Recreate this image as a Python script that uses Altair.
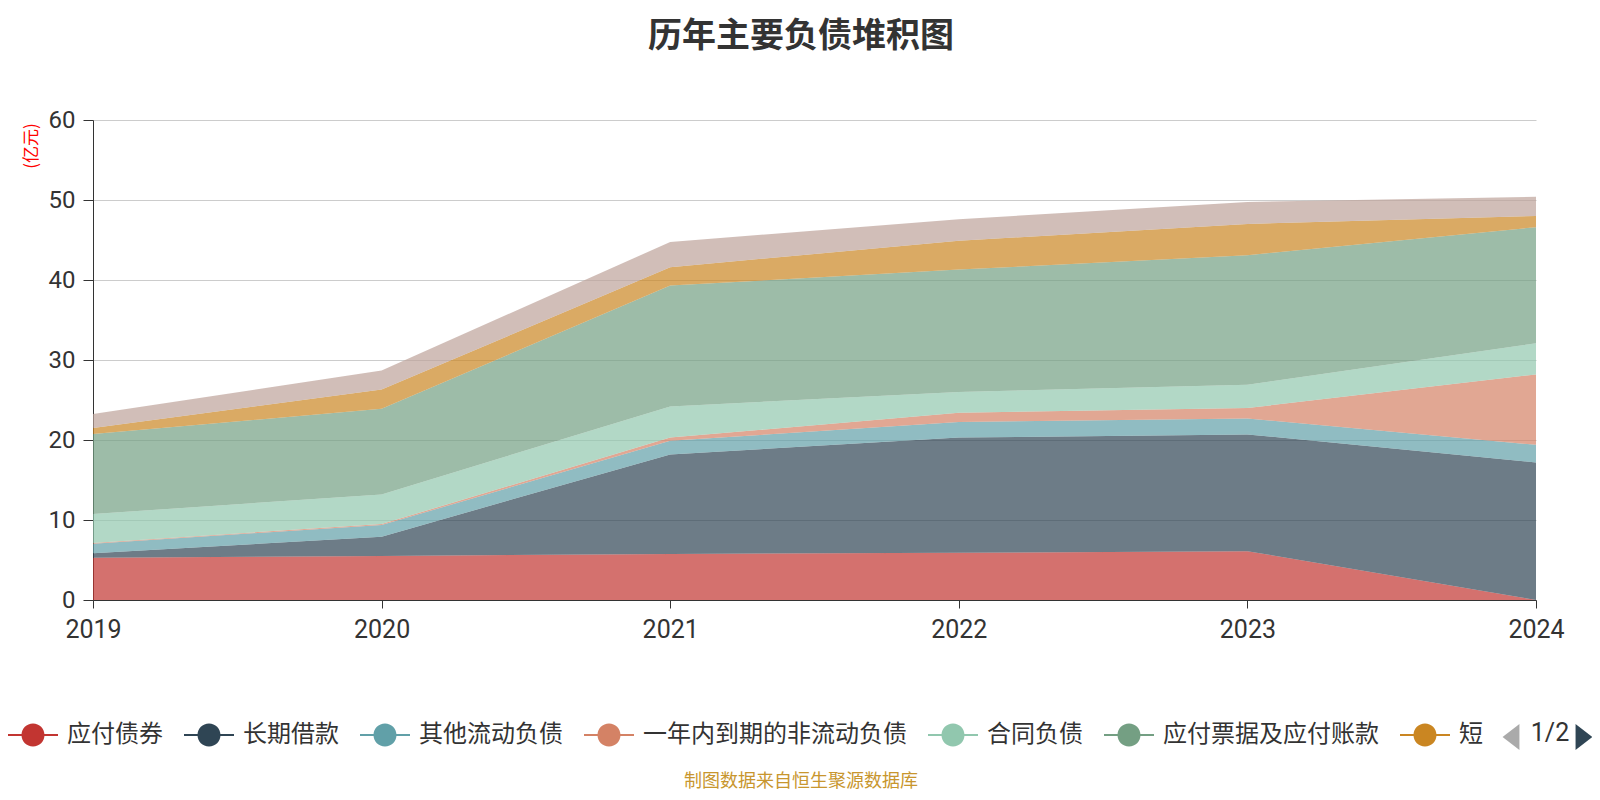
import altair as alt
import pandas as pd

years = [2019, 2020, 2021, 2022, 2023, 2024]
series_names = ["应付债券", "长期借款", "其他流动负债", "一年内到期的非流动负债",
                "合同负债", "应付票据及应付账款", "短期借款", "其他应付款"]
bonds_payable = [5.29, 5.5, 5.75, 5.9, 6.1, 0.0]
long_term_loans = [0.54, 2.42, 12.45, 14.4, 14.6, 17.2]
other_current = [1.21, 1.46, 1.7, 1.95, 2.0, 2.2]
due_within_year = [0.1, 0.12, 0.4, 1.15, 1.3, 8.8]
contract_liab = [3.6, 3.7, 3.9, 2.6, 2.9, 3.9]
notes_accounts = [10.0, 10.7, 15.1, 15.3, 16.2, 14.5]
short_term_loans = [0.76, 2.4, 2.3, 3.6, 3.9, 1.4]
other_payables = [1.74, 2.4, 3.15, 2.7, 2.75, 2.4]
colors = ["#c23531", "#2f4554", "#61a0a8", "#d48265",
          "#91c7ae", "#749f83", "#ca8622", "#bda29a"]

all_values = [bonds_payable, long_term_loans, other_current, due_within_year,
              contract_liab, notes_accounts, short_term_loans, other_payables]

rows = []
for i, (name, vals) in enumerate(zip(series_names, all_values)):
    for y, v in zip(years, vals):
        rows.append({"year": y, "series": name, "value": v, "idx": i})
df = pd.DataFrame(rows)

FONT = "Noto Sans CJK SC"
NUM_FONT = "Roboto"
legend_symbol = ("M-1,-0.04H1V0.04H-1Z "
                 "M0.46,0A0.46,0.46,0,1,1,-0.46,0A0.46,0.46,0,1,1,0.46,0Z")

area = alt.Chart(df).mark_area(opacity=0.7, interpolate="linear").encode(
    x=alt.X("year:Q",
            scale=alt.Scale(domain=[2019, 2024], nice=False, zero=False),
            axis=alt.Axis(values=years, format="d", grid=False, title=None,
                          domainColor="#333", tickColor="#333", tickSize=8,
                          labelFont=NUM_FONT, labelFontSize=25,
                          labelColor="#333", labelPadding=9,
                          labelFlush=False, labelOverlap=False)),
    y=alt.Y("value:Q", stack="zero",
            scale=alt.Scale(domain=[0, 60], nice=False),
            axis=alt.Axis(values=[0, 10, 20, 30, 40, 50, 60], grid=True,
                          gridColor="#cccccc", domainColor="#333",
                          tickColor="#333", tickSize=10,
                          labelFont=NUM_FONT, labelFontSize=24,
                          labelColor="#333", labelPadding=8,
                          title="(亿元)", titleColor="red", titleFontSize=17,
                          titleFontWeight="normal", titleAngle=270,
                          titleX=-62, titleY=25.5, titleAlign="center",
                          titleBaseline="middle")),
    color=alt.Color("series:N",
                    scale=alt.Scale(domain=series_names, range=colors),
                    legend=alt.Legend(
                        title=None, orient="none", legendX=-85, legendY=590,
                        direction="horizontal", values=series_names[:7],
                        symbolType=legend_symbol, symbolSize=2500,
                        symbolStrokeWidth=0, symbolOpacity=1,
                        labelFontSize=24, labelColor="#333", labelOffset=9,
                        columnPadding=21, labelLimit=400, padding=0,
                        labelExpr="datum.label == '短期借款' ? '短' : datum.label")),
    order=alt.Order("idx:Q", sort="ascending"),
)

one = pd.DataFrame({"t": ["1/2"]})
pager_text = alt.Chart(one).mark_text(font=NUM_FONT, fontSize=25, color="#333",
                                      align="center", baseline="middle").encode(
    x=alt.value(1457), y=alt.value(613), text="t:N")
tri_left = alt.Chart(one).mark_point(shape="M0.65,-1L-0.65,0L0.65,1Z", filled=True,
                                     size=676, color="#aaaaaa", opacity=1,
                                     strokeWidth=0).encode(
    x=alt.value(1418), y=alt.value(617))
tri_right = alt.Chart(one).mark_point(shape="M-0.65,-1L0.65,0L-0.65,1Z", filled=True,
                                      size=676, color="#2f4554", opacity=1,
                                      strokeWidth=0).encode(
    x=alt.value(1491), y=alt.value(617))

src = pd.DataFrame({"t": ["制图数据来自恒生聚源数据库"]})
footer = alt.Chart(src).mark_text(fontSize=18, color="#c8962e", align="center",
                                  baseline="middle").encode(
    x=alt.value(708), y=alt.value(662), text="t:N")

chart = alt.layer(area, pager_text, tri_left, tri_right, footer).properties(
    width=1443, height=480,
    title=alt.Title("历年主要负债堆积图", fontSize=34, fontWeight="bold",
                    color="#333", anchor="middle", frame="group", dx=-13.5,
                    offset=54),
    autosize=alt.AutoSizeParams(type="none"),
    padding={"left": 85, "top": 112, "right": 56, "bottom": 192},
).configure(font=FONT).configure_view(stroke=None)

chart.save("out.html", embed_options={"renderer": "svg", "actions": False})
